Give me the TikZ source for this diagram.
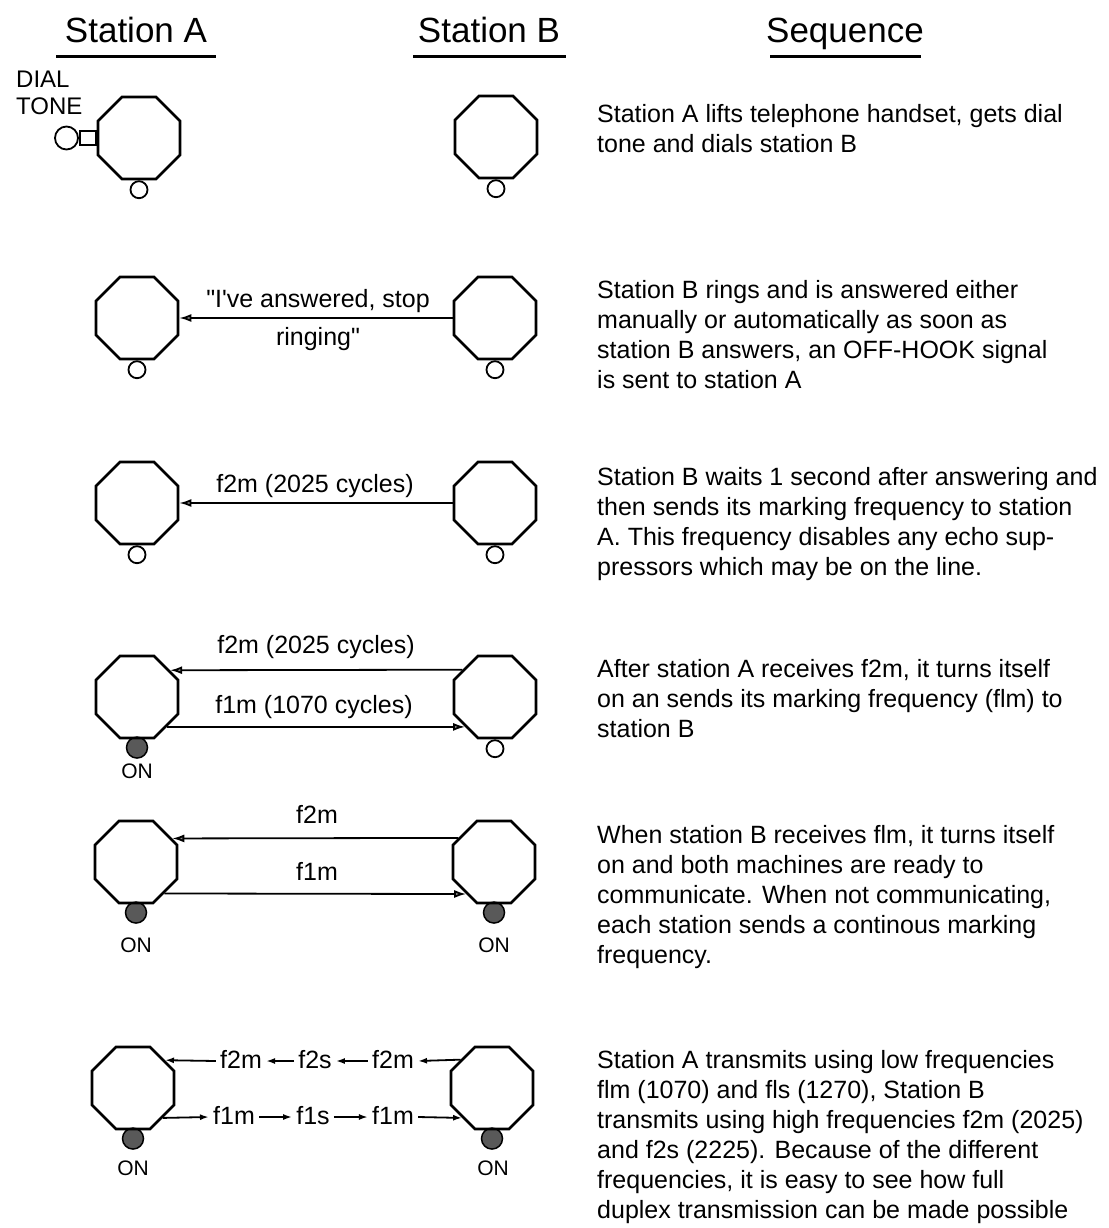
\documentclass[tikz,border=0pt]{standalone}
\usepackage{fontspec}
\setmainfont{Liberation Sans}
\usetikzlibrary{shapes.geometric,arrows.meta}
\pgfdeclarelayer{background}
\pgfsetlayers{background,main}
\begin{document}
\begin{tikzpicture}[x=1pt,y=-1pt,
  oct/.style={draw, line width=2.6pt, regular polygon, regular polygon sides=8, minimum size=88.76pt, inner sep=0pt},
  offc/.style={circle, draw, line width=1.8pt, minimum size=17pt, inner sep=0pt, anchor=north},
  onc/.style={circle, draw, line width=1.5pt, fill=black!65, minimum size=21pt, inner sep=0pt, anchor=north},
  arr/.style={line width=1.8pt, -{Latex[length=12pt,width=8pt,fill=black!45]}},
  sarr/.style={line width=1.8pt, -{Latex[length=9pt,width=6pt,fill=black!45]}},
  hdr/.style={font=\fontsize{35}{40}\selectfont, inner sep=0pt, anchor=base},
  uline/.style={line width=3pt},
  body/.style={font=\fontsize{25}{30}\selectfont, align=left, anchor=base west, inner sep=0pt},
  lab/.style={font=\fontsize{25}{30}\selectfont, inner sep=0pt, anchor=base},
  onl/.style={font=\fontsize{21}{24}\selectfont, inner sep=0pt},
  chainlab/.style={font=\fontsize{25}{30}\selectfont, text height=14pt, text depth=0pt, inner xsep=4pt, inner ysep=0pt},
]
\useasboundingbox (0,0) rectangle (1108,1228);

% headers
\node[hdr] (hA) at (136,43) {Station A};
\node[hdr] (hB) at (489,43) {Station B};
\node[hdr] (hS) at (845,43) {Sequence};
\draw[uline] ([xshift=-80pt,yshift=-14pt]hA.base) -- ([xshift=80pt,yshift=-14pt]hA.base);
\draw[uline] ([xshift=-76pt,yshift=-14pt]hB.base) -- ([xshift=77pt,yshift=-14pt]hB.base);
\draw[uline] ([xshift=-75pt,yshift=-14pt]hS.base) -- ([xshift=76pt,yshift=-14pt]hS.base);

% ---------- row 1
\node[oct] (A1) at (139,138) {};
\node[oct] (B1) at (496,137) {};
\node[offc] (cA1) at (A1.south) {};
\node[offc] (cB1) at (B1.south) {};
\node[draw, line width=1.8pt, minimum width=16pt, minimum height=14pt, inner sep=0pt, anchor=east] (dtr) at (A1.west) {};
\node[circle, draw, line width=1.8pt, minimum size=23pt, inner sep=0pt, anchor=east] (dtc) at (dtr.west) {};
\node[font=\fontsize{24}{27}\selectfont, align=left, anchor=base west, inner sep=0pt] (dtl) at (16,115) {DIAL\\TONE};
\node[body] (s1) at (597,152) {Station A lifts telephone handset, gets dial\\tone and dials station B};

% ---------- row 2
\node[oct] (A2) at (137,318) {};
\node[oct] (B2) at (495,318) {};
\node[offc] (cA2) at (A2.south) {};
\node[offc] (cB2) at (B2.south) {};
\draw[arr] (B2.west) -- (A2.east);
\node[lab, align=center, font=\fontsize{25}{38}\selectfont] (t2) at (318,345) {\textquotedbl I\textquotesingle ve answered, stop\\ringing\textquotedbl};
\node[body] (s2) at (597,388) {Station B rings and is answered either\\manually or automatically as soon as\\station B answers, an OFF-HOOK signal\\is sent to station A};

% ---------- row 3
\node[oct] (A3) at (137,503) {};
\node[oct] (B3) at (495,503) {};
\node[offc] (cA3) at (A3.south) {};
\node[offc] (cB3) at (B3.south) {};
\draw[arr] (B3.west) -- (A3.east);
\node[lab] (t3) at (315,492) {f2m (2025 cycles)};
\node[body] (s3) at (597,575) {Station B waits 1 second after answering and\\then sends its marking frequency to station\\A. This frequency disables any echo sup-\\pressors which may be on the line.};

% ---------- row 4
\node[oct] (A4) at (137,697) {};
\node[oct] (B4) at (495,697) {};
\begin{pgfonlayer}{background}
\node[onc] (cA4) at ([yshift=3pt]A4.south) {};
\end{pgfonlayer}
\node[offc] (cB4) at (B4.south) {};
\node[onl] (onA4) at (137,771) {ON};
\draw[arr] (B4.140.91) -- (A4.39.09);
\draw[arr] (A4.-45) -- (B4.-135);
\node[lab] (t4a) at (316,653) {f2m (2025 cycles)};
\node[lab] (t4b) at (314,713) {f1m (1070 cycles)};
\node[body] (s4) at (597,737) {After station A receives f2m, it turns itself\\on an sends its marking frequency (flm) to\\station B};

% ---------- row 5
\node[oct] (A5) at (136,862) {};
\node[oct] (B5) at (494,862) {};
\begin{pgfonlayer}{background}
\node[onc] (cA5) at ([yshift=3pt]A5.south) {};
\node[onc] (cB5) at ([yshift=3pt]B5.south) {};
\end{pgfonlayer}
\node[onl] (onA5) at (136,945) {ON};
\node[onl] (onB5) at (494,945) {ON};
\draw[arr] (B5.146.7) -- (A5.33.3);
\draw[arr] (A5.-48.9) -- (B5.-131.1);
\node[lab] (t5a) at (317,823) {f2m};
\node[lab] (t5b) at (317,880) {f1m};
\node[body] (s5) at (597,963) {When station B receives flm, it turns itself\\on and both machines are ready to\\communicate. When not communicating,\\each station sends a continous marking\\frequency.};

% ---------- row 6
\node[oct] (A6) at (133,1088) {};
\node[oct] (B6) at (492,1088) {};
\begin{pgfonlayer}{background}
\node[onc] (cA6) at ([yshift=3pt]A6.south) {};
\node[onc] (cB6) at ([yshift=3pt]B6.south) {};
\end{pgfonlayer}
\node[onl] (onA6) at (133,1168) {ON};
\node[onl] (onB6) at (493,1168) {ON};
\node[chainlab] (u1) at (241,1061) {f2m};
\node[chainlab] (u2) at (315,1061) {f2s};
\node[chainlab] (u3) at (393,1061) {f2m};
\node[chainlab] (l1) at (234,1117) {f1m};
\node[chainlab] (l2) at (313,1117) {f1s};
\node[chainlab] (l3) at (393,1117) {f1m};
\draw[sarr] (B6.138.95) -- (u3.east);
\draw[sarr] (u3) -- (u2);
\draw[sarr] (u2) -- (u1);
\draw[sarr] (u1.west) -- (A6.41.05);
\draw[sarr] (A6.-45) -- (l1.west);
\draw[sarr] (l1) -- (l2);
\draw[sarr] (l2) -- (l3);
\draw[sarr] (l3.east) -- (B6.-135);
\node[body] (s6) at (597,1218) {Station A transmits using low frequencies\\flm (1070) and fls (1270), Station B\\transmits using high frequencies f2m (2025)\\and f2s (2225). Because of the different\\frequencies, it is easy to see how full\\duplex transmission can be made possible};
\end{tikzpicture}
\end{document}
